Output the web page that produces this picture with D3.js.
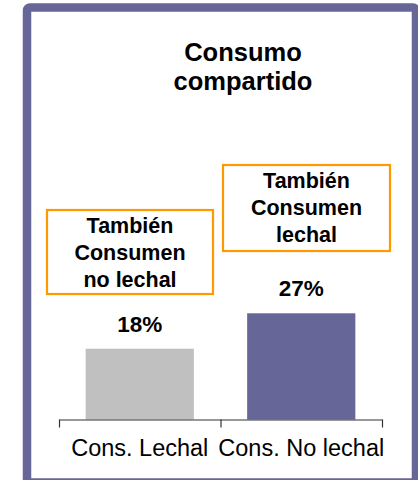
<!DOCTYPE html>
<html>
<head>
<meta charset="utf-8">
<script src="https://cdn.jsdelivr.net/npm/d3@7"></script>
<style>
  html, body { margin: 0; padding: 0; background: #fff; }
  svg { display: block; font-family: "Liberation Sans", Arial, sans-serif; }
</style>
</head>
<body>
<svg id="chart" width="418" height="480"></svg>
<script>
// ---- data ----
const categories = ["Cons. Lechal", "Cons. No lechal"];
const values = [18, 27];
const valueLabels = ["18%", "27%"];
const barColors = ["#C0C0C0", "#666699"];
const titleLines = ["Consumo", "compartido"];
const noteLines = [
  ["También", "Consumen", "no lechal"],
  ["También", "Consumen", "lechal"]
];

// ---- layout ----
const svg = d3.select("#chart");
const axisY = 419.5;
const plotLeft = 59, plotRight = 382;
// annotation box layout: [left, top, width, height]
const noteBoxes = [[47, 210, 166, 84], [223, 165, 167, 86]];

// frame
svg.append("rect")
  .attr("x", 27).attr("y", 7.5)
  .attr("width", 389).attr("height", 475)
  .attr("rx", 3)
  .attr("fill", "#fff")
  .attr("stroke", "#666699")
  .attr("stroke-width", 8.5);

// title
const title = svg.append("text")
  .attr("text-anchor", "middle")
  .attr("font-weight", "bold")
  .attr("font-size", 25.5)
  .attr("fill", "#000");
titleLines.forEach((t, i) => {
  title.append("tspan").attr("x", 243).attr("y", 60.5 + i * 29).text(t);
});

// scales
const x = d3.scaleBand()
  .domain(categories)
  .range([plotLeft, plotRight])
  .paddingInner(0.33)
  .paddingOuter(0.165);
const y = d3.scaleLinear().domain([0, 30]).range([axisY, axisY - 118]);

// bars
svg.selectAll("rect.bar")
  .data(categories)
  .join("rect")
  .attr("class", "bar")
  .attr("x", d => x(d))
  .attr("width", x.bandwidth())
  .attr("y", (d, i) => y(values[i]))
  .attr("height", (d, i) => y(0) - y(values[i]))
  .attr("fill", (d, i) => barColors[i]);

// value labels
svg.selectAll("text.val")
  .data(categories)
  .join("text")
  .attr("class", "val")
  .attr("x", d => x(d) + x.bandwidth() / 2)
  .attr("y", (d, i) => y(values[i]) - 17)
  .attr("text-anchor", "middle")
  .attr("font-weight", "bold")
  .attr("font-size", 22.5)
  .text((d, i) => valueLabels[i]);

// axis line + ticks at category boundaries
const edge = d3.scaleLinear().domain([0, categories.length]).range([plotLeft, plotRight]);
const axisG = svg.append("g")
  .attr("transform", `translate(0,${axisY})`)
  .call(d3.axisBottom(edge)
    .tickValues(d3.range(categories.length + 1))
    .tickFormat("")
    .tickSize(8)
    .tickSizeOuter(0));
axisG.selectAll("path, line").attr("stroke", "#333").attr("stroke-width", 1.2);

// category labels
const labelG = svg.append("g")
  .attr("transform", `translate(0,${axisY})`)
  .call(d3.axisBottom(x).tickSize(0).tickPadding(0));
labelG.select(".domain").remove();
labelG.selectAll("text")
  .attr("font-family", "'Liberation Sans', Arial, sans-serif")
  .attr("font-size", 23.5)
  .attr("fill", "#000")
  .attr("dy", null)
  .attr("y", 36.5);

// annotation boxes
noteLines.forEach((lines, i) => {
  const [bx, by, bw, bh] = noteBoxes[i];
  svg.append("rect")
    .attr("x", bx).attr("y", by)
    .attr("width", bw).attr("height", bh)
    .attr("fill", "#fff")
    .attr("stroke", "#FF9900")
    .attr("stroke-width", 2.2);
  const t = svg.append("text")
    .attr("text-anchor", "middle")
    .attr("font-weight", "bold")
    .attr("font-size", 21.5)
    .attr("fill", "#000");
  lines.forEach((l, j) => {
    t.append("tspan").attr("x", bx + bw / 2).attr("y", by + 23 + j * 27).text(l);
  });
});
</script>
</body>
</html>
